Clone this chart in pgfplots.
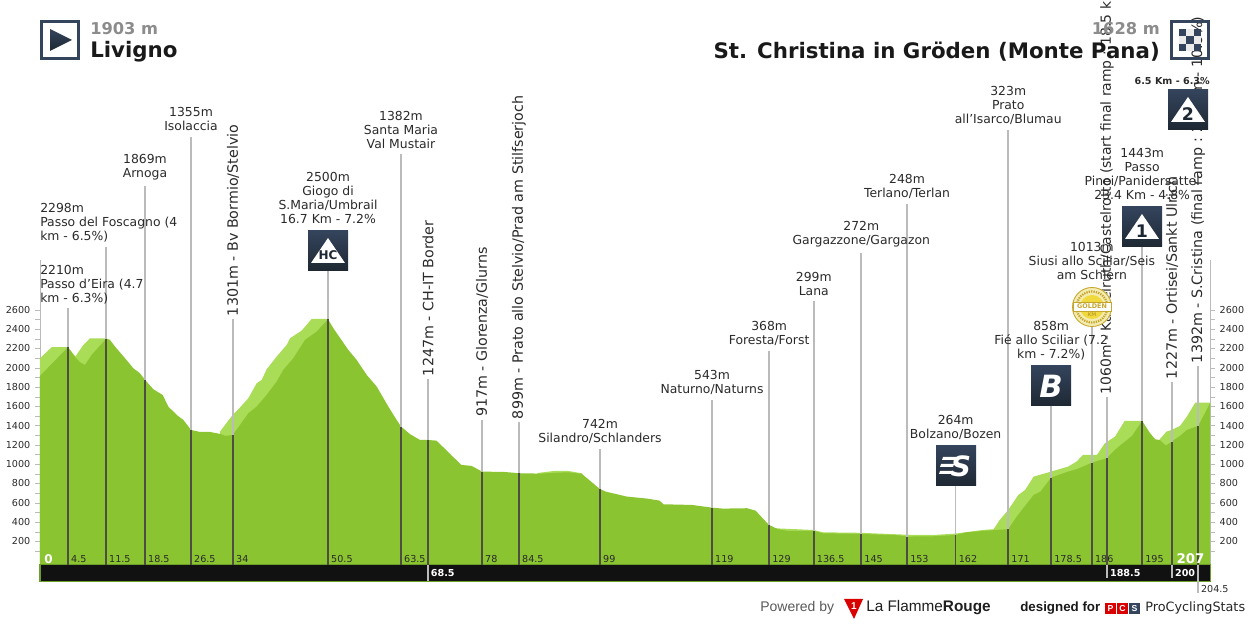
\documentclass[border=0pt]{standalone}
\usepackage{fontspec}
\setmainfont{DejaVu Sans}
\newfontfamily\logofont{Liberation Sans}
\usepackage{pgfplots}
\pgfplotsset{compat=1.18}
\usepackage{pgfplotstable}
\usetikzlibrary{shapes.geometric}

\definecolor{darkg}{HTML}{8AC431}
\definecolor{lightg}{HTML}{A9DC57}
\definecolor{bargreen}{HTML}{6E9E2A}
\definecolor{barblack}{HTML}{111111}
\definecolor{stemd}{HTML}{4D4D42}
\definecolor{steml}{HTML}{BBBBBB}
\definecolor{navy}{HTML}{34445C}
\definecolor{navyb}{HTML}{1E2833}
\definecolor{labtext}{HTML}{2A2A2A}
\definecolor{goldpale}{HTML}{F3EBB0}
\definecolor{goldline}{HTML}{C4A62C}
\definecolor{goldmid}{HTML}{F0D93C}

% elevation profile: km, m (first and last rows close the area on the base line)
\pgfplotstableread{
km m
0 -46
0 1915
4.95 2213
6.37 2099
7.08 2057
7.96 2029
9.14 2133
11.68 2299
12.38 2289
13.27 2220
15.04 2099
16.51 1995
17.69 1943
18.58 1874
20.05 1777
21.70 1718
22.71 1597
24.18 1511
25.36 1459
26.72 1355
28.31 1334
30.08 1334
31.85 1314
32.85 1293
34.09 1303
35.39 1407
36.86 1528
38.33 1597
40.10 1718
41.87 1857
43.05 1978
44.82 2099
46.89 2289
48.95 2375
50.96 2503
51.90 2410
54.55 2185
56.03 2081
57.80 1926
59.57 1805
61.63 1597
63.10 1459
63.87 1390
65.5 1310
67.23 1251
68.57 1251
70.16 1244
72.72 1096
74.55 992
76.37 982
78.2 923
82.16 919
84.78 906
88.56 902
91.6 912
93.43 916
95.87 899
99.04 743
100.1 715
103.8 664
107.4 643
109.6 622
110.3 584
115.3 577
118.9 549
120.8 539
125.1 543
126.6 518
128.95 370
130.6 325
132.4 307
136.9 307
138.5 283
145.2 276
151.9 262
153.4 249
158 252
162 266
163.9 293
166.9 307
169.3 318
171.3 325
172.8 456
175.8 681
177 715
178.9 861
181.9 923
183.4 947
185.2 992
186.1 1016
188.7 1061
190.5 1165
193.2 1293
195 1448
196.4 1321
197.3 1258
198.1 1251
199.2 1193
200.2 1234
201.7 1293
202.9 1355
204.9 1397
206.1 1528
207 1632
207 -46
}\darkprofile

% lighter band in front of the profile, one table for each stretch
\pgfplotstableread{
km m
0 -46
0 2099
2.06 2213
4.95 2213
6.25 2116
7.67 2237
8.85 2306
11.68 2306
12.38 2289
12.38 -46
}\lightA
\pgfplotstableread{
km m
31.85 -46
31.85 1338
34.09 1511
35.09 1569
36.86 1684
38.33 1839
39.22 1874
40.10 1984
41.87 2116
43.64 2237
44.23 2306
46.30 2386
48.07 2507
50.96 2507
50.96 -46
}\lightB
\pgfplotstableread{
km m
88 -46
88 908
91 930
93.4 930
95.9 905
95.9 -46
}\lightC
\pgfplotstableread{
km m
130 -46
130 335
136.9 317
138.5 293
145.2 288
153.4 268
158 265
162 280
166.9 318
168.7 325
169.8 421
171.3 525
173.1 681
174.3 733
175.8 871
178.9 923
181.9 975
183.4 1027
184.5 1096
187 1096
188.4 1217
190.2 1286
191.9 1448
195 1448
195 -46
}\lightD
\pgfplotstableread{
km m
198.1 -46
198.1 1258
199.3 1338
200.2 1355
201.7 1397
202.9 1493
204.4 1639
207 1639
207 -46
}\lightE

\tikzset{
  lab/.style={anchor=south,align=center,inner sep=1.5pt,yshift=2.6pt,text=labtext,
    font=\fontsize{9.3}{10.5}\selectfont},
  lableft/.style={anchor=south west,align=left,inner sep=0pt,text=labtext,
    font=\fontsize{9.3}{10.5}\selectfont},
  labrot/.style={anchor=west,rotate=90,inner sep=2pt,text=labtext,
    font=\fontsize{10.7}{12}\selectfont},
  kmlab/.style={anchor=south west,inner sep=0pt,xshift=2.2pt,yshift=1.5pt,text=labtext,
    font=\fontsize{7.2}{8}\selectfont},
  barlab/.style={anchor=west,inner sep=0pt,xshift=2pt,text=white,
    font=\fontsize{7.2}{8}\selectfont\bfseries},
}

% #1 km, #2 height on the profile, #3 top of the thin grey line, #4 km label
\newcommand{\stem}[4]{%
  \addplot[steml,line width=1.2pt,forget plot] coordinates {(#1,#2)(#1,#3)};
  \addplot[stemd,line width=1.2pt,forget plot] coordinates {(#1,-46)(#1,#2)};
  \node[kmlab] at (axis cs:#1,-46) {#4};
}
% navy square icon, centre in pixels
\newcommand{\navybox}[2]{%
  \shade[top color=navy,bottom color=navyb] (#1-20,#2-20) rectangle (#1+20,#2+20);
}
\newcommand{\climbicon}[3]{%
  \navybox{#1}{#2}
  \fill[white] (#1,#2-13) -- (#1+17,#2+12) -- (#1-17,#2+12) -- cycle;
  \node[text=navyb,inner sep=0pt,font=\fontsize{#3}{#3}\selectfont\bfseries] at (#1,#2+4) {\climbtext};
}

\begin{document}
\begin{tikzpicture}
\path[use as bounding box] (0,0) rectangle (937.5pt,468.75pt);

% right hand scale
\begin{axis}[
  name=rightscale,
  at={(30pt,45pt)},anchor=south west,
  scale only axis,width=877.5pt,height=228.75pt,
  xmin=0,xmax=207,ymin=-46,ymax=3118,
  axis x line=none,axis y line=right,
  y axis line style={steml,-},
  ytick={200,400,...,2600},
  minor ytick={100,300,...,2500},
  tick style={steml},
  tick align=outside,
  major tick length=3.75pt,minor tick length=3.75pt,
  yticklabel style={font=\fontsize{7.2}{8}\selectfont,text=labtext,
    /pgf/number format/assume math mode=true,/pgf/number format/1000 sep={}},
]
\end{axis}

\begin{axis}[
  at={(30pt,45pt)},anchor=south west,
  scale only axis,width=877.5pt,height=228.75pt,
  xmin=0,xmax=207,ymin=-46,ymax=3118,
  clip=false,
  axis x line=none,axis y line=left,
  y axis line style={steml,-},
  ytick={200,400,...,2600},
  minor ytick={100,300,...,2500},
  tick style={steml},
  tick align=outside,
  major tick length=3.75pt,minor tick length=3.75pt,
  yticklabel style={font=\fontsize{7.2}{8}\selectfont,text=labtext,
    /pgf/number format/assume math mode=true,/pgf/number format/1000 sep={}},
]
\addplot[fill=lightg,draw=none,forget plot] table {\lightA} -- cycle;
\addplot[fill=lightg,draw=none,forget plot] table {\lightB} -- cycle;
\addplot[fill=lightg,draw=none,forget plot] table {\lightC} -- cycle;
\addplot[fill=lightg,draw=none,forget plot] table {\lightD} -- cycle;
\addplot[fill=lightg,draw=none,forget plot] table {\lightE} -- cycle;
\addplot[fill=darkg,draw=none,forget plot] table {\darkprofile} -- cycle;

% black strip under the profile
\draw[bargreen,fill=barblack,line width=0.75pt] (axis cs:0,-46) rectangle (axis cs:207,-212);

\stem{4.95}{2213}{2620}{4.5}
\stem{11.68}{2299}{3253}{11.5}
\stem{18.58}{1874}{3886}{18.5}
\stem{26.72}{1355}{4395}{26.5}
\stem{34.15}{1303}{2506}{34}
\stem{50.96}{2503}{3015}{50.5}
\stem{63.87}{1390}{4218}{63.5}
\stem{68.65}{1251}{1884}{}
\stem{78.2}{923}{1459}{78}
\stem{84.75}{906}{1438}{84.5}
\stem{99.08}{743}{1158}{99}
\stem{118.9}{549}{1666}{119}
\stem{129.0}{370}{2174}{129}
\stem{136.9}{307}{2693}{136.5}
\stem{145.3}{276}{3191}{145}
\stem{153.4}{249}{3700}{153}
\stem{162}{266}{774}{162}
\stem{171.3}{325}{4467}{171}
\stem{178.9}{861}{1604}{178.5}
\stem{186.1}{1016}{2434}{186}
\stem{188.8}{1061}{1697}{}
\stem{195}{1448}{3253}{195}
\stem{200.3}{1234}{1853}{}
\stem{204.9}{1397}{2019}{}

% grey marks running through the strip
\addplot[steml,line width=1.2pt,forget plot] coordinates {(68.65,-46)(68.65,-212)};
\addplot[steml,line width=1.2pt,forget plot] coordinates {(188.8,-46)(188.8,-180)};
\addplot[steml,line width=1.2pt,forget plot] coordinates {(200.3,-46)(200.3,-180)};
\addplot[steml,line width=1.2pt,forget plot] coordinates {(204.9,-46)(204.9,-340)};

\node[anchor=south west,inner sep=0pt,xshift=3pt,yshift=1pt,text=white,
  font=\fontsize{9}{10}\selectfont\bfseries] at (axis cs:0,-46) {0};
\node[anchor=south east,inner sep=0pt,xshift=-4pt,yshift=1pt,text=white,
  font=\fontsize{10}{10}\selectfont\bfseries] at (axis cs:207,-46) {207};
\node[barlab] at (axis cs:68.65,-130) {68.5};
\node[barlab] at (axis cs:188.8,-130) {188.5};
\node[barlab] at (axis cs:200.3,-125) {200};
\node[anchor=west,inner sep=0pt,xshift=2pt,text=labtext,font=\fontsize{7.2}{8}\selectfont]
  at (axis cs:204.9,-290) {204.5};

% place names
\node[lableft] at (axis cs:0,3305) {2298m\\Passo del Foscagno (4\\km - 6.5\%)};
\node[lableft] at (axis cs:0,2661) {2210m\\Passo d'Eira (4.7\\km - 6.3\%)};
\node[lab] at (axis cs:18.58,3886) {1869m\\Arnoga};
\node[lab] at (axis cs:26.72,4395) {1355m\\Isolaccia};
\node[labrot] at (axis cs:34.15,2506) {1301m - Bv Bormio/Stelvio};
\node[lab] at (axis cs:50.96,3435) {2500m\\Giogo di\\S.Maria/Umbrail\\16.7 Km - 7.2\%};
\node[lab] at (axis cs:63.87,4218) {1382m\\Santa Maria\\Val Mustair};
\node[labrot] at (axis cs:68.65,1884) {1247m - CH-IT Border};
\node[labrot] at (axis cs:78.2,1459) {917m - Glorenza/Glurns};
\node[labrot] at (axis cs:84.75,1438) {899m - Prato allo Stelvio/Prad am Stilfserjoch};
\node[lab] at (axis cs:99.08,1158) {742m\\Silandro/Schlanders};
\node[lab] at (axis cs:118.9,1666) {543m\\Naturno/Naturns};
\node[lab] at (axis cs:129.0,2174) {368m\\Foresta/Forst};
\node[lab] at (axis cs:136.9,2693) {299m\\Lana};
\node[lab] at (axis cs:145.3,3191) {272m\\Gargazzone/Gargazon};
\node[lab] at (axis cs:153.4,3700) {248m\\Terlano/Terlan};
\node[lab] at (axis cs:162,1200) {264m\\Bolzano/Bozen};
\node[lab] at (axis cs:171.3,4467) {323m\\Prato\\all'Isarco/Blumau};
\node[lab] at (axis cs:178.9,2020) {858m\\Fié allo Sciliar (7.2\\km - 7.2\%)};
\node[lab] at (axis cs:186.1,2850) {1013m\\Siusi allo Sciliar/Seis\\am Schlern};
\node[labrot,font=\fontsize{10.45}{12}\selectfont] at (axis cs:188.8,1697) {1060m - Kastelruth/Castelrotto (start final ramp : 18.5 k};
\node[lab] at (axis cs:195,3680) {1443m\\Passo\\Pinei/Panidersattel\\23.4 Km - 4.8\%};
\node[labrot] at (axis cs:200.3,1853) {1227m - Ortisei/Sankt Ulrich};
\node[labrot] at (axis cs:204.9,2019) {1392m - S.Cristina (final ramp : 2.1 Km - 10.9\%)};
\end{axis}

% headers, icons and footer, in pixels from the top left corner of the page
\begin{scope}[shift={(0pt,468.75pt)},x=0.75pt,y=-0.75pt]
  \node[anchor=west,inner sep=0pt,text=black!45,font=\fontsize{12.2}{14}\selectfont\bfseries] at (90,29) {1903 m};
  \node[anchor=west,inner sep=0pt,text=black!90,font=\fontsize{16}{20}\selectfont\bfseries] at (90,52) {Livigno};
  \node[anchor=east,inner sep=0pt,text=black!45,font=\fontsize{12.2}{14}\selectfont\bfseries] at (1160,29) {1628 m};
  \node[anchor=east,inner sep=0pt,text=black!90,font=\fontsize{16}{20}\selectfont\bfseries] at (1160,52) {St. Christina in Gröden (Monte Pana)};

  % start
  \draw[navy,line width=2.2pt] (41.5,21.5) rectangle (78.5,58.5);
  \shade[top color=navy,bottom color=navyb] (50,29) -- (72,40) -- (50,51) -- cycle;
  % finish
  \draw[navy,line width=2.2pt] (1171.5,21.5) rectangle (1208.5,58.5);
  \fill[black!8] (1179,29) rectangle (1201,51);
  \foreach \c/\r in {0/0,2/0,1/1,0/2,2/2}{
    \fill[navy] (1179+\c*7.33,29+\r*7.33) rectangle ++(7.33,7.33);
  }

  \node[anchor=east,inner sep=0pt,text=labtext,font=\fontsize{7.2}{9}\selectfont\bfseries] at (1210,81) {6.5 Km - 6.3\%};

  \def\climbtext{HC}\climbicon{328}{251}{9}
  \def\climbtext{1}\climbicon{1142}{227}{13}
  \def\climbtext{2}\climbicon{1188}{110}{13}

  % sprint
  \navybox{956}{466}
  \fill[white] (943,457) -- (956,457) -- (955,460) -- (942,460) -- cycle;
  \fill[white] (941,464) -- (954,464) -- (953,467) -- (940,467) -- cycle;
  \fill[white] (940,471) -- (953,471) -- (952,474) -- (939,474) -- cycle;
  \node[text=white,inner sep=0pt,font=\fontsize{21}{21}\selectfont\bfseries\itshape] at (961,466) {S};
  % bonus
  \navybox{1051}{386}
  \node[text=white,inner sep=0pt,font=\fontsize{23}{23}\selectfont\bfseries\itshape] at (1051,386) {B};
  % golden km medal
  \fill[goldpale] (1092,307) circle (20);
  \draw[goldline,line width=0.6pt] (1092,307) circle (19.5);
  \draw[goldline,line width=1.6pt,dash pattern=on 1pt off 0.8pt] (1092,307) circle (15.5);
  \fill[goldmid] (1092,307) circle (12);
  \fill[white] (1073,302) rectangle (1111,311);
  \draw[goldline,line width=0.4pt] (1073,302) rectangle (1111,311);
  \node[text=goldline,inner sep=0pt,font=\fontsize{4.8}{5}\selectfont\bfseries] at (1092,306.5) {GOLDEN};
  \node[text=goldline,inner sep=0pt,font=\fontsize{3.8}{4}\selectfont\bfseries] at (1092,315) {KM};

  % footer
  \node[anchor=west,inner sep=0pt,text=black!65,font=\logofont\fontsize{10.5}{12}\selectfont] at (760,608) {Powered by};
  \fill[red!85!black] (844,599) -- (863,599) -- (854,619) -- cycle;
  \node[text=white,inner sep=0pt,font=\logofont\fontsize{7.5}{8}\selectfont\bfseries] at (854,606) {1};
  \node[anchor=west,inner sep=0pt,text=black!88,font=\logofont\fontsize{11.5}{14}\selectfont] at (866,608) {La Flamme\textbf{Rouge}};
  \node[anchor=west,inner sep=0pt,text=black!90,font=\logofont\fontsize{10}{12}\selectfont\bfseries] at (1020,608) {designed for};
  \foreach \x/\t/\c in {1105/P/red!85!black,1117/C/red!85!black,1129/S/navy}{
    \fill[\c] (\x,603) rectangle ++(11,11);
    \node[text=white,inner sep=0pt,font=\logofont\fontsize{6.5}{7}\selectfont\bfseries] at (\x+5.5,608.5) {\t};
  }
  \node[anchor=west,inner sep=0pt,text=black!85,font=\fontsize{9.6}{12}\selectfont] at (1145,608) {ProCyclingStats};
\end{scope}
\end{tikzpicture}
\end{document}
